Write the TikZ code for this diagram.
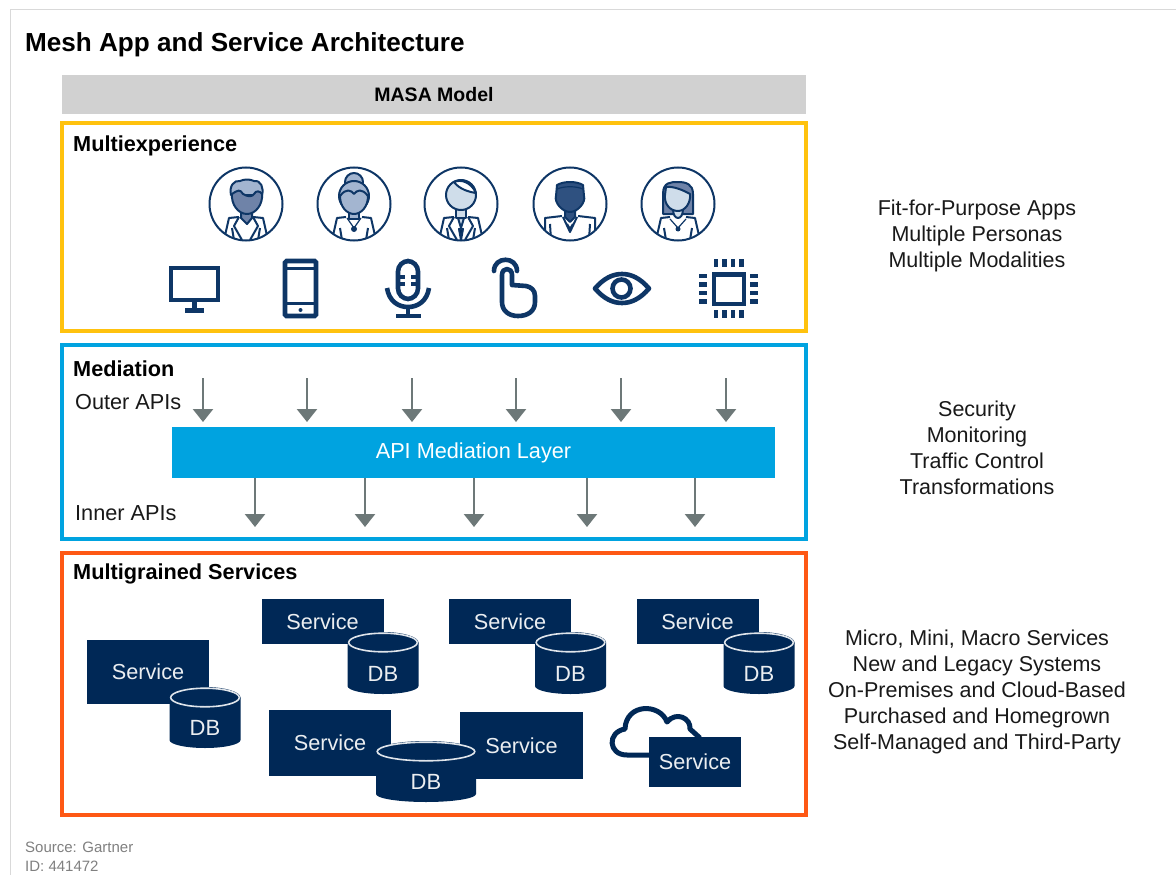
\documentclass[tikz,border=0pt]{standalone}
\usepackage{fontspec}
\setmainfont{Liberation Sans}
\usetikzlibrary{arrows.meta}
\definecolor{navy}{HTML}{002856}
\definecolor{iconblue}{HTML}{0E3666}
\definecolor{gold}{HTML}{FFC20E}
\definecolor{skyb}{HTML}{00A3E0}
\definecolor{orng}{HTML}{FE5815}
\definecolor{arrowgrey}{HTML}{6D7878}
\definecolor{midb}{HTML}{6F83A8}
\definecolor{lightb}{HTML}{A3B5D0}
\definecolor{paleb}{HTML}{CFDDEA}
\definecolor{darkb}{HTML}{2F5180}
\newcommand{\fsz}[1]{\fontsize{#1}{#1}\selectfont}
\tikzset{
  band/.style={draw,line width=4pt,fill=none},
  head/.style={font=\bfseries\fsz{21.7},text=black,anchor=west,inner sep=0pt},
  plain/.style={font=\fsz{21.7},text=black!90,anchor=west,inner sep=0pt},
  side/.style={font=\fsz{21.5},text=black!90,align=center,inner sep=0pt},
  svc/.style={fill=navy,text=white!92!navy,font=\fsz{21.7},inner sep=0pt},
  dbtext/.style={text=white!92!navy,font=\fsz{22},inner sep=0pt},
  flow/.style={draw=arrowgrey,line width=2.4pt,-{Triangle[width=20pt,length=13pt]}},
  ic/.style={draw=iconblue,line width=4.6pt,fill=none},
  pl/.style={draw=iconblue,line width=2pt,line join=round},
}
% database: cx, top, bottom, rx, ry, name
\newcommand{\dbicon}[6]{%
  \fill[navy] ({#1-#4},{#2+#5}) -- ({#1-#4},{#3-8}) arc[start angle=180,end angle=360,x radius=#4,y radius=-8] -- ({#1+#4},{#2+#5}) -- cycle;
  \fill[navy] (#1,{#2+#5}) ellipse[x radius=#4,y radius=#5];
  \draw[white!88!navy,line width=1.6pt] (#1,{#2+#5}) ellipse[x radius={#4-1.2},y radius={#5-1.2}];
  \node[dbtext] (#6) at (#1,{#3-20}) {DB};
}
\newcommand{\jacket}{%
  \draw[pl] (-22,36) -- (-17,14) -- (-7,13) (7,13) -- (17,14) -- (22,36);
  \draw[pl] (-7,13) -- (-12,22) -- (-4,36) (7,13) -- (12,22) -- (4,36);
  \draw[pl] (-14,24) -- (-12,36) (14,24) -- (12,36);
}
\newcommand{\ring}[2]{%
  \begin{scope}[shift={(#1,#2)}]
    \draw[iconblue,line width=2pt,fill=white] (0,0) circle[radius=36.5];
    \clip (0,0) circle[radius=36];
}
\begin{document}
\begin{tikzpicture}[x=1pt,y=-1pt]
\useasboundingbox (0,0) rectangle (1176,875);
\fill[white] (0,0) rectangle (1176,875);
\draw[black!15,line width=1pt] (10,875) -- (10,10) -- (1176,10);

\node[font=\bfseries\fsz{26.1},text=black,anchor=west,inner sep=0pt] (title) at (25,44.5) {Mesh App and Service Architecture};

\node[fill=black!18,minimum width=744pt,minimum height=39pt,inner sep=0pt,font=\bfseries\fsz{19.5},text=black] (masa) at (434,94.5) {MASA Model};

\node[band,draw=gold,minimum width=744pt,minimum height=208pt,inner sep=0pt] (mx) at (434,227) {};
\node[band,draw=skyb,minimum width=744pt,minimum height=194pt,inner sep=0pt] (med) at (434,442) {};
\node[band,draw=orng,minimum width=744pt,minimum height=262pt,inner sep=0pt] (ms) at (434,684) {};

\node[head] (lmx) at (73,145.5) {Multiexperience};
\node[head] (lmed) at (73,368.5) {Mediation};
\node[head] (lms) at (73,573.5) {Multigrained Services};

% Personas
\ring{246}{204}
  \jacket
  \draw[pl,fill=midb] (-5,6) -- (-5,14) -- (1,20) -- (6,14) -- (6,6) -- cycle;
  \draw[pl,fill=lightb] (-15,-9) .. controls (-17,-18) and (-12,-24) .. (-6,-23) .. controls (-2,-25) and (4,-25) .. (8,-23) .. controls (15,-24) and (18,-16) .. (16,-9) -- cycle;
  \draw[pl,fill=midb] (-14,-10) .. controls (-8,-14) and (-6,-15) .. (-3,-10) .. controls (2,-7) and (6,-7) .. (8,-10) .. controls (10,-14) and (14,-13) .. (16,-10) .. controls (17,0) and (10,10) .. (1,10) .. controls (-8,10) and (-15,0) .. (-14,-10) -- cycle;
\end{scope}
\ring{354}{204}
  \draw[pl] (-22,36) -- (-17,14) -- (-8,13) (8,13) -- (17,14) -- (22,36);
  \draw[pl] (-14,24) -- (-12,36) (14,24) -- (12,36);
  \draw[pl,line width=1.2pt] (-7,14) -- (0,24) -- (7,14);
  \fill[iconblue] (0,25) circle[radius=3];
  \draw[pl,fill=lightb] (-5,6) rectangle (5,15);
  \draw[pl,fill=lightb] (0,-22) circle[radius=9];
  \draw[pl,fill=lightb] (0,-8) circle[radius=15];
  \draw[pl,fill=lightb] (-14,-8) .. controls (-8,-16) and (-3,-14) .. (0,-10) .. controls (3,-14) and (8,-16) .. (14,-8) .. controls (14,3) and (7,10) .. (0,10) .. controls (-7,10) and (-14,3) .. (-14,-8) -- cycle;
\end{scope}
\ring{461}{204}
  \jacket
  \draw[pl,fill=paleb] (0,24) -- (-3,14) -- (3,14) -- cycle;
  \draw[pl,fill=navy] (-2,25) -- (0,36) -- (2,25) -- cycle;
  \draw[pl,fill=paleb] (-5,5) rectangle (5,14);
  \draw[pl,fill=paleb] (0,-9) circle[radius=15];
  \draw[pl,fill=white] (-7,-22) .. controls (0,-25) and (10,-22) .. (15,-11) .. controls (8,-12) and (-2,-15) .. (-7,-22) -- cycle;
\end{scope}
\ring{570}{204}
  \draw[pl] (-25,36) -- (-25,14) -- (-8,12) (8,12) -- (25,14) -- (25,36);
  \draw[pl] (-20,20) -- (-19,36) (20,20) -- (19,36);
  \draw[pl] (-7,13) -- (0,28) -- (7,13);
  \draw[pl] (-3,20) -- (0,25) -- (3,20);
  \draw[pl,fill=darkb] (-5,5) -- (-5,13) -- (0,18) -- (5,13) -- (5,5) -- cycle;
  \draw[pl,fill=darkb] (-13,-19) .. controls (-6,-23) and (6,-23) .. (13,-19) -- (14,-8) .. controls (16,-2) and (8,8) .. (0,8) .. controls (-8,8) and (-16,-2) .. (-14,-8) -- cycle;
  \draw[pl,line width=1.2pt] (-13,-15) .. controls (-6,-18) and (6,-18) .. (13,-15);
\end{scope}
\ring{678}{204}
  \draw[pl] (-22,36) -- (-17,14) -- (-8,13) (8,13) -- (17,14) -- (22,36);
  \draw[pl] (-14,24) -- (-12,36) (14,24) -- (12,36);
  \draw[pl,line width=1.2pt] (-8,15) -- (0,24) -- (8,15);
  \fill[iconblue] (0,25) circle[radius=2.5];
  \draw[pl,fill=midb] (-15,10) -- (-15,-10) .. controls (-15,-22) and (-7,-22) .. (0,-22) .. controls (8,-22) and (15,-20) .. (15,-10) -- (15,10) -- cycle;
  \draw[pl,fill=paleb] (-5,5) .. controls (-5,17) and (5,17) .. (5,5) -- cycle;
  \draw[pl,fill=paleb] (-12,-17) .. controls (-5,-18) and (5,-14) .. (12,-10) .. controls (13,-1) and (7,7) .. (0,7) .. controls (-8,7) and (-14,0) .. (-13,-9) -- (-12,-17) -- cycle;
\end{scope}

% Modality icons
% monitor
\draw[ic] (171,268) rectangle (218,300);
\draw[ic] (194.5,300.5) -- (194.5,310);
\draw[ic] (185,310.5) -- (204,310.5);
% phone
\draw[ic,rounded corners=1.5pt] (285,261) rectangle (316,316);
\draw[ic,line width=3pt] (284,268.5) -- (317,268.5) (284,303) -- (317,303);
\fill[iconblue] (300.5,310) circle[radius=2];
% microphone
\draw[ic,rounded corners=10.5pt] (398,261) rectangle (418,299);
\draw[ic,line width=3.5pt] (398,277) -- (405,277) (398,284) -- (405,284) (411,277) -- (418,277) (411,284) -- (418,284);
\draw[ic] (387,288) .. controls (389,301) and (398,307) .. (408,307) .. controls (418,307) and (427,301) .. (429,288);
\draw[ic] (408,308) -- (408,316) (396,316) -- (421,316);
% hand
\draw[ic,line cap=round,line join=round] (512,285) -- (512,275) .. controls (512,267) and (502,267) .. (502,275) -- (502,302) .. controls (502,311) and (509,316) .. (518,316) .. controls (528,316) and (535,311) .. (535,302) -- (535,296) .. controls (535,290) and (531,287) .. (526,286) -- (512,285);
\draw[ic,line cap=round] (494,271) .. controls (494,256) and (517,256) .. (517,271);
% eye
\draw[ic,line join=round] (595,288.5) .. controls (604,278) and (613,274) .. (622,274) .. controls (631,274) and (640,278) .. (649,288.5) .. controls (640,299) and (631,303) .. (622,303) .. controls (613,303) and (604,299) .. (595,288.5) -- cycle;
\draw[ic] (621.5,288.5) circle[radius=9];
% chip
\draw[ic] (714,274.5) rectangle (744,304);
\foreach \p in {716,724.5,733,741.5} {
  \fill[iconblue] (\p-2.3,259) rectangle (\p+2.3,267);
  \fill[iconblue] (\p-2.3,310) rectangle (\p+2.3,318);
}
\foreach \p in {276,284.5,293,301.5} {
  \fill[iconblue] (699,\p-2.3) rectangle (707,\p+2.3);
  \fill[iconblue] (750,\p-2.3) rectangle (758,\p+2.3);
}

% Mediation
\node[fill=skyb,minimum width=603pt,minimum height=51pt,inner sep=0pt,text=white,font=\fsz{21.7}] (api) at (473.5,452.5) {API Mediation Layer};
\node[plain] (outer) at (75,402) {Outer APIs};
\node[plain] (inner) at (75,513) {Inner APIs};
\foreach \n/\p in {a/203,b/307,c/412,d/516,e/621,f/726} {
  \coordinate (ot\n) at (\p,378);
  \coordinate (ob\n) at (\p,422);
  \draw[flow] (ot\n) -- (ob\n);
}
\foreach \n/\p in {a/255,b/365,c/474,d/587,e/695} {
  \coordinate (ib\n) at (\p,527);
  \draw[flow] (\p,478) -- (ib\n);
}

% Services
\node[svc,minimum width=122pt,minimum height=64pt] (s1) at (148,672) {Service};
\dbicon{205}{687}{748}{35.5}{10.5}{d1}
\node[svc,minimum width=122pt,minimum height=45pt] (s2) at (322.5,621.5) {Service};
\dbicon{383}{632}{694}{35.5}{10.5}{d2}
\node[svc,minimum width=122pt,minimum height=45pt] (s3) at (510,621.5) {Service};
\dbicon{570.5}{632}{694}{35.5}{10.5}{d3}
\node[svc,minimum width=122pt,minimum height=45pt] (s4) at (697.5,621.5) {Service};
\dbicon{759}{632}{694}{35.5}{10.5}{d4}
\node[svc,minimum width=122pt,minimum height=66pt] (s5) at (330,743) {Service};
\node[svc,minimum width=123pt,minimum height=67pt] (s6) at (521.5,745.5) {Service};
\dbicon{426}{741}{802}{50}{10.5}{d5}
% cloud
\draw[navy,line width=5pt,line join=round] (652,755) -- (627,755) .. controls (608,755) and (607,732) .. (625,729) .. controls (626,703) and (660,703) .. (667,722) .. controls (676,711) and (691,718) .. (690,729) -- (700,738);
\node[svc,minimum width=92pt,minimum height=50pt] (s7) at (695,762) {Service};

% Right column
\node[side] (r1) at (977,236) {Fit-for-Purpose Apps\\[4.5pt]Multiple Personas\\[4.5pt]Multiple Modalities};
\node[side] (r2) at (977,448) {Security\\[4.5pt]Monitoring\\[4.5pt]Traffic Control\\[4.5pt]Transformations};
\node[side] (r3) at (977,692) {Micro, Mini, Macro Services\\[4.5pt]New and Legacy Systems\\[4.5pt]On-Premises and Cloud-Based\\[4.5pt]Purchased and Homegrown\\[4.5pt]Self-Managed and Third-Party};

\node[font=\fsz{15},text=black!50,anchor=west,inner sep=0pt] (src) at (25,847) {Source: Gartner};
\node[font=\fsz{15},text=black!50,anchor=west,inner sep=0pt] (id) at (25,866) {ID: 441472};
\end{tikzpicture}
\end{document}
